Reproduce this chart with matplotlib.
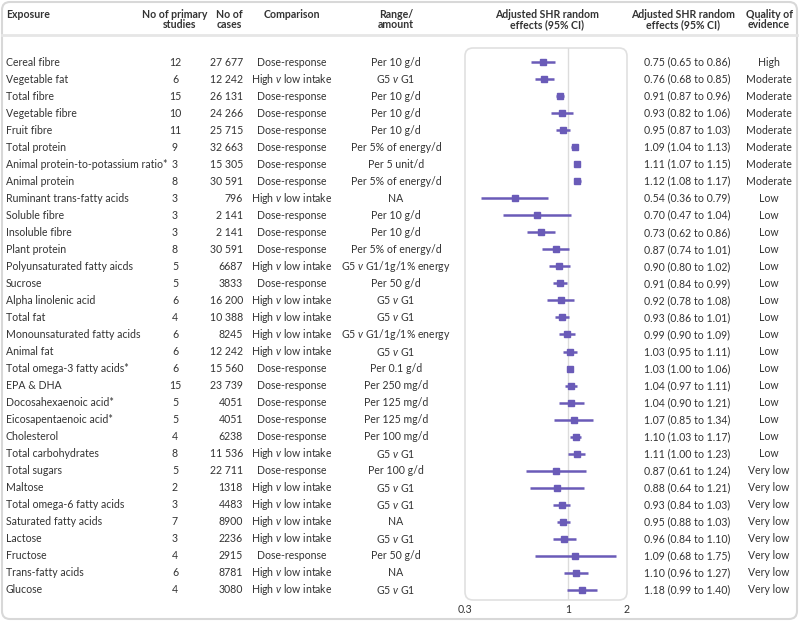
import matplotlib
matplotlib.use("Agg")
import matplotlib.pyplot as plt
from matplotlib.patches import FancyBboxPatch
import numpy as np

plt.rcParams['font.family'] = ['Lato', 'DejaVu Sans']
plt.rcParams['mathtext.fontset'] = 'custom'
plt.rcParams['mathtext.rm'] = 'Lato'
plt.rcParams['mathtext.it'] = 'Lato:italic'

exposures = ["Cereal fibre", "Vegetable fat", "Total fibre", "Vegetable fibre", "Fruit fibre",
             "Total protein", "Animal protein-to-potassium ratio*", "Animal protein",
             "Ruminant trans-fatty acids", "Soluble fibre", "Insoluble fibre", "Plant protein",
             "Polyunsaturated fatty aicds", "Sucrose", "Alpha linolenic acid", "Total fat",
             "Monounsaturated fatty acids", "Animal fat", "Total omega-3 fatty acids*", "EPA & DHA",
             "Docosahexaenoic acid*", "Eicosapentaenoic acid*", "Cholesterol", "Total carbohydrates",
             "Total sugars", "Maltose", "Total omega-6 fatty acids", "Saturated fatty acids",
             "Lactose", "Fructose", "Trans-fatty acids", "Glucose"]
n_studies = [12, 6, 15, 10, 11, 9, 3, 8, 3, 3, 3, 8, 5, 5, 6, 4, 6, 6, 6, 15, 5, 5, 4, 8,
             5, 2, 3, 7, 3, 4, 6, 4]
n_cases = ["27 677", "12 242", "26 131", "24 266", "25 715", "32 663", "15 305", "30 591",
           "796", "2 141", "2 141", "30 591", "6687", "3833", "16 200", "10 388", "8245",
           "12 242", "15 560", "23 739", "4051", "4051", "6238", "11 536", "22 711", "1318",
           "4483", "8900", "2236", "2915", "8781", "3080"]
DR = "Dose-response"
HL = "High $v$ low intake"
comparison = [DR, HL, DR, DR, DR, DR, DR, DR, HL, DR, DR, DR, HL, DR, HL, HL, HL, HL, DR, DR,
              DR, DR, DR, HL, DR, HL, HL, HL, HL, DR, HL, HL]
G = "G5 $v$ G1"
GE = "G5 $v$ G1/1g/1% energy"
ranges = ["Per 10 g/d", G, "Per 10 g/d", "Per 10 g/d", "Per 10 g/d", "Per 5% of energy/d",
          "Per 5 unit/d", "Per 5% of energy/d", "NA", "Per 10 g/d", "Per 10 g/d",
          "Per 5% of energy/d", GE, "Per 50 g/d", G, G, GE, G, "Per 0.1 g/d", "Per 250 mg/d",
          "Per 125 mg/d", "Per 125 mg/d", "Per 100 mg/d", G, "Per 100 g/d", G, G, "NA", G,
          "Per 50 g/d", "NA", G]
shr = [0.75, 0.76, 0.91, 0.93, 0.95, 1.09, 1.11, 1.12, 0.54, 0.70, 0.73, 0.87, 0.90, 0.91,
       0.92, 0.93, 0.99, 1.03, 1.03, 1.04, 1.04, 1.07, 1.10, 1.11, 0.87, 0.88, 0.93, 0.95,
       0.96, 1.09, 1.10, 1.18]
lo = [0.65, 0.68, 0.87, 0.82, 0.87, 1.04, 1.07, 1.08, 0.36, 0.47, 0.62, 0.74, 0.80, 0.84,
      0.78, 0.86, 0.90, 0.95, 1.00, 0.97, 0.90, 0.85, 1.03, 1.00, 0.61, 0.64, 0.84, 0.88,
      0.84, 0.68, 0.96, 0.99]
hi = [0.86, 0.85, 0.96, 1.06, 1.03, 1.13, 1.15, 1.17, 0.79, 1.04, 0.86, 1.01, 1.02, 0.99,
      1.08, 1.01, 1.09, 1.11, 1.06, 1.11, 1.21, 1.34, 1.17, 1.23, 1.24, 1.21, 1.03, 1.03,
      1.10, 1.75, 1.27, 1.40]
quality = ["High"] + ["Moderate"] * 7 + ["Low"] * 16 + ["Very low"] * 8
xticks = [0.3, 1, 2]
xtick_labels = ["0.3", "1", "2"]

W, H = 800, 622
fig = plt.figure(figsize=(W / 100, H / 100), dpi=100)
bg = fig.add_axes([0, 0, 1, 1])
bg.set_xlim(0, W)
bg.set_ylim(H, 0)
bg.axis('off')

txt = '#333333'
fs = 7.6
border = '#d8d8d8'

# outer border
bg.add_patch(FancyBboxPatch((2, 2), W - 5, H - 5, boxstyle="round,pad=0,rounding_size=8",
                            fc='white', ec=border, lw=1.5, zorder=0))
bg.plot([2, W - 3], [35, 35], color='#e6e6e6', lw=2, zorder=1)

# forest panel box
px0, px1, py0, py1 = 465, 627, 48, 600
bg.add_patch(FancyBboxPatch((px0, py0), px1 - px0, py1 - py0,
                            boxstyle="round,pad=0,rounding_size=8",
                            fc='none', ec='#e0e0e0', lw=1.2, zorder=1))

# headers
hb = dict(fontsize=fs, fontweight='bold', color=txt, va='center')
bg.text(6, 14, "Exposure", ha='left', **hb)
bg.text(175, 14, "No of primary", ha='center', **hb)
bg.text(180, 25, "studies", ha='center', **hb)
bg.text(229, 14, "No of", ha='center', **hb)
bg.text(229, 25, "cases", ha='center', **hb)
bg.text(292, 14, "Comparison", ha='center', **hb)
bg.text(396, 14, "Range/", ha='center', **hb)
bg.text(396, 25, "amount", ha='center', **hb)
bg.text(547, 14, "Adjusted SHR random", ha='center', **hb)
bg.text(547, 25, "effects (95% CI)", ha='center', **hb)
bg.text(683, 14, "Adjusted SHR random", ha='center', **hb)
bg.text(683, 25, "effects (95% CI)", ha='center', **hb)
bg.text(769, 14, "Quality of", ha='center', **hb)
bg.text(769, 25, "evidence", ha='center', **hb)

y0, dy = 62, 17.03
n = len(exposures)
tk = dict(fontsize=fs, color=txt, va='center')
for i in range(n):
    y = y0 + i * dy
    bg.text(6, y, exposures[i], ha='left', **tk)
    bg.text(175, y, str(n_studies[i]), ha='center', **tk)
    bg.text(243, y, n_cases[i], ha='right', **tk)
    bg.text(292, y, comparison[i], ha='center', **tk)
    bg.text(396, y, ranges[i], ha='center', **tk)
    bg.text(644, y, f"{shr[i]:.2f} ({lo[i]:.2f} to {hi[i]:.2f})", ha='left', **tk)
    bg.text(769, y, quality[i], ha='center', **tk)

# forest axes
ax = fig.add_axes([px0 / W, 1 - py1 / H, (px1 - px0) / W, (py1 - py0) / H])
ax.set_xscale('log')
ax.set_xlim(0.3, 2)
ax.set_ylim((py1 - y0) / dy, (py0 - y0) / dy)
ax.patch.set_alpha(0)
for s in ax.spines.values():
    s.set_visible(False)
ax.axvline(1, color='#dcdcdc', lw=1, zorder=1)
ypos = np.arange(n)
col = '#6a5bb8'
ax.hlines(ypos, lo, hi, color=col, lw=1.8, zorder=2)
ax.plot(shr, ypos, 's', color=col, ms=4.2, zorder=3)
ax.set_yticks([])
ax.set_xticks(xticks)
ax.set_xticklabels(xtick_labels)
ax.xaxis.set_minor_locator(matplotlib.ticker.NullLocator())
ax.tick_params(axis='x', length=0, labelsize=fs, labelcolor=txt, pad=3)

fig.savefig("out.png", dpi=100)
